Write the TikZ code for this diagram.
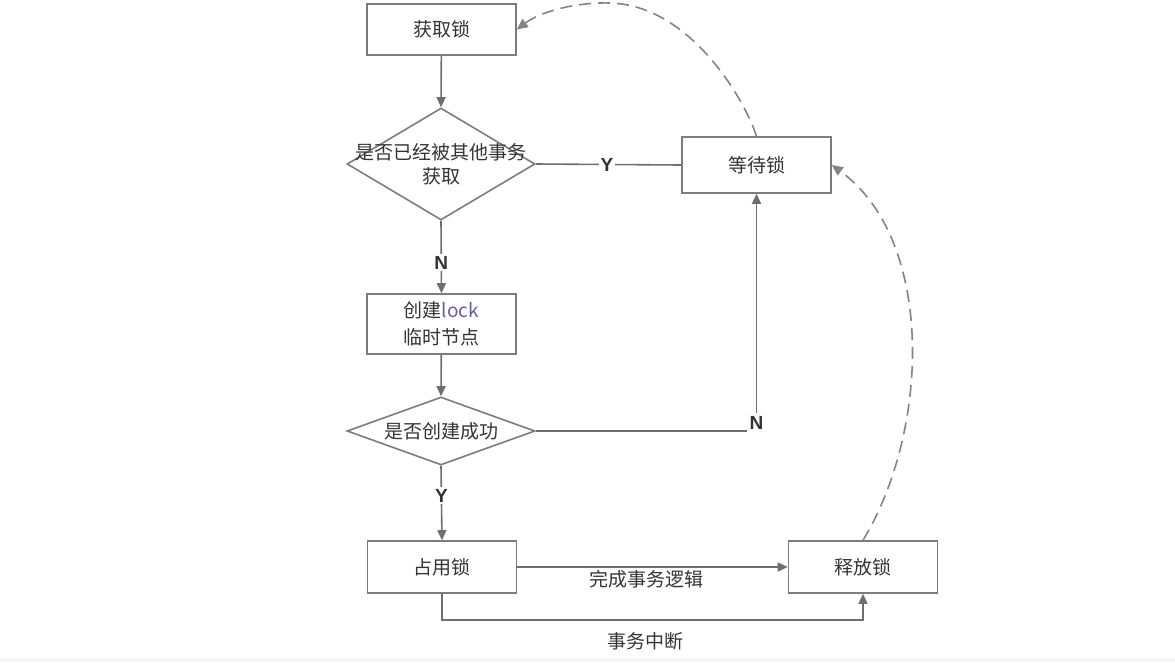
\documentclass[tikz,border=0pt]{standalone}
\usepackage{fontspec}
\setmainfont{Noto Sans CJK SC}
\newfontfamily\latinb{Liberation Sans}
\usetikzlibrary{arrows.meta,shapes.geometric}
\definecolor{linec}{HTML}{6E6E6E}
\definecolor{boxc}{HTML}{7C7C7C}
\definecolor{txtc}{HTML}{333333}
\definecolor{lockc}{HTML}{6A5C9C}
\tikzset{
  stepbox/.style={draw=boxc, line width=1.6pt, rectangle, minimum width=149pt, inner sep=0pt, text=txtc, font=\fontsize{19}{24}\selectfont, align=center},
  decbox/.style={draw=boxc, line width=1.6pt, shape=diamond, inner sep=0pt, minimum width=188pt},
  dectext/.style={text=txtc, font=\fontsize{19}{24}\selectfont, align=center, inner sep=0pt},
  flow/.style={draw=linec, line width=1.6pt, -{Triangle[length=10pt,width=9pt]}},
  plain/.style={draw=linec, line width=1.6pt},
  dashflow/.style={draw=linec!85, line width=1.6pt, dash pattern=on 12pt off 7pt, -{Triangle[length=11pt,width=10pt]}},
  yn/.style={fill=white, text=txtc, inner sep=2pt, font=\latinb\bfseries\fontsize{19}{22}\selectfont},
  lbl/.style={text=txtc, inner sep=0pt, font=\fontsize{19}{22}\selectfont}
}
\begin{document}
\begin{tikzpicture}[x=1pt,y=-1pt]
\useasboundingbox (0,0) rectangle (1175,662);
\fill[gray!9] (0,658) rectangle (1175,662);

\node[stepbox, minimum height=51pt] (get) at (441.5,29.5) {获取锁};
\node[decbox, minimum height=112pt] (d1) at (441,164) {};
\node[dectext] (d1t) at (d1.center) {是否已经被其他事务\\获取};
\node[stepbox, minimum height=56pt] (wait) at (756.5,165) {等待锁};
\node[stepbox, minimum height=60pt, font=\fontsize{19}{27}\selectfont] (create) at (441.5,324) {创建{\color{lockc}lock}\\临时节点};
\node[decbox, minimum height=68pt] (d2) at (441,431) {};
\node[dectext] (d2t) at (d2.center) {是否创建成功};
\node[stepbox, minimum height=52pt] (occ) at (442,567) {占用锁};
\node[stepbox, minimum height=52pt] (rel) at (863,567) {释放锁};

\coordinate (ncorner) at (wait.south |- d2.east);
\coordinate (bl) at (442,620);
\coordinate (br) at (rel.south |- bl);

\draw[flow] (get) -- (d1.north);
\draw[plain] (d1.east) -- (wait.west) node[yn, pos=0.49] (ylab1) {Y};
\draw[flow] (d1.south) -- (create.north) node[yn, pos=0.58] (nlab1) {N};
\draw[flow] (create) -- (d2.north);
\draw[flow] (d2.east) -- (ncorner) -- (wait.south);
\node[yn, inner sep=3pt] (nlab2) at ([yshift=8pt]ncorner) {N};
\draw[flow] (d2.south) -- (occ.north) node[yn, pos=0.4] (ylab2) {Y};
\draw[flow] (occ.east) -- (rel.west);
\node[lbl] (done) at (646,579) {完成事务逻辑};
\draw[flow] (occ.south) -- (bl) -- (br) -- (rel.south);
\node[lbl] (abort) at (645,641) {事务中断};

\draw[dashflow] (wait.north) .. controls (745,100) and (690,5) .. (610,3)
   .. controls (575,2) and (540,12) .. (get.east);
\draw[dashflow] (rel.north) .. controls (930,430) and (935,240) .. (wait.east);
\end{tikzpicture}
\end{document}
